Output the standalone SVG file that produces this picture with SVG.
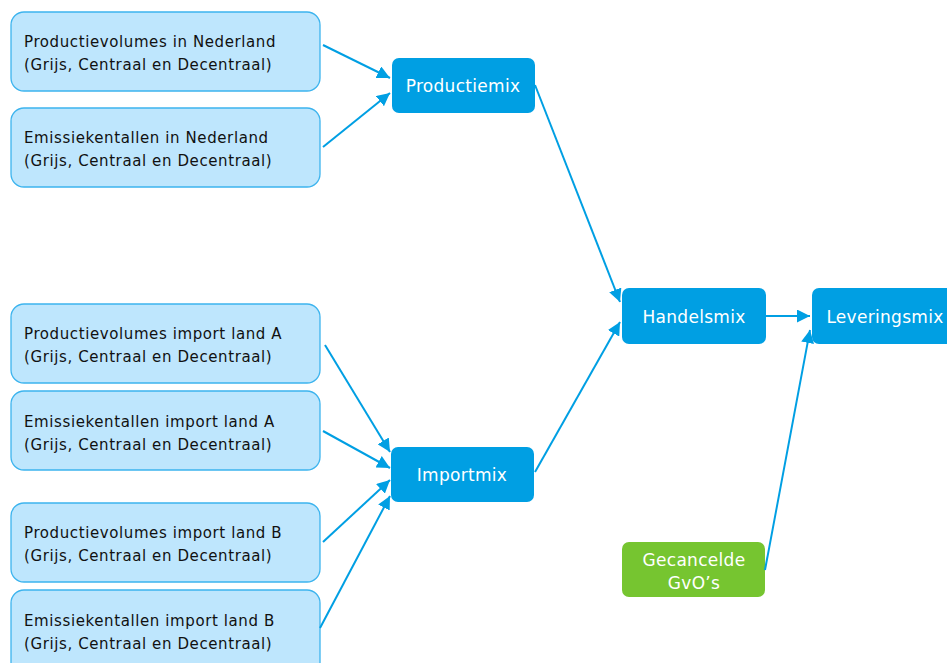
<svg xmlns="http://www.w3.org/2000/svg" width="947" height="663" viewBox="0 0 947 663">
<defs>
<marker id="ah" viewBox="0 0 10 10" refX="10" refY="5" markerWidth="6.5" markerHeight="6.5" orient="auto" markerUnits="strokeWidth">
<path d="M0,0 L10,5 L0,10 z" fill="#009FE3"/>
</marker>
<style>
.src rect{fill:#BEE6FD;stroke:#3DB4EE;stroke-width:1.3}
.src text{font-family:"DejaVu Sans",sans-serif;font-size:15px;letter-spacing:0.6px;fill:#111}
.mix rect{fill:#009FE3}
.mix text{font-family:"DejaVu Sans",sans-serif;font-size:17px;letter-spacing:0.3px;fill:#fff;text-anchor:middle}
.grn rect{fill:#76C530}
#connectors line{stroke:#009FE3;stroke-width:2;marker-end:url(#ah)}
</style>
</defs>
<rect width="947" height="663" fill="#fff"/>
<g id="n1" class="src"><rect x="11" y="12" width="309" height="79" rx="13"/><text x="24" y="47">Productievolumes  in Nederland</text><text x="24" y="70">(Grijs, Centraal en Decentraal)</text></g>
<g id="n2" class="src"><rect x="11" y="108" width="309" height="79" rx="13"/><text x="24" y="143">Emissiekentallen in Nederland</text><text x="24" y="166">(Grijs, Centraal en Decentraal)</text></g>
<g id="n3" class="src"><rect x="11" y="304" width="309" height="79" rx="13"/><text x="24" y="339">Productievolumes  import land A</text><text x="24" y="362">(Grijs, Centraal en Decentraal)</text></g>
<g id="n4" class="src"><rect x="11" y="391" width="309" height="79" rx="13"/><text x="24" y="427">Emissiekentallen import land A</text><text x="24" y="450">(Grijs, Centraal en Decentraal)</text></g>
<g id="n5" class="src"><rect x="11" y="503" width="309" height="79" rx="13"/><text x="24" y="538">Productievolumes  import land B</text><text x="24" y="561">(Grijs, Centraal en Decentraal)</text></g>
<g id="n6" class="src"><rect x="11" y="590" width="309" height="85" rx="13"/><text x="24" y="626">Emissiekentallen import land B</text><text x="24" y="649">(Grijs, Centraal en Decentraal)</text></g>
<g id="productiemix" class="mix"><rect x="392" y="58" width="143" height="55" rx="7"/><text x="463" y="92">Productiemix</text></g>
<g id="importmix" class="mix"><rect x="391" y="447" width="143" height="55" rx="7"/><text x="462" y="481">Importmix</text></g>
<g id="handelsmix" class="mix"><rect x="622" y="288" width="144" height="56" rx="7"/><text x="694" y="323">Handelsmix</text></g>
<g id="leveringsmix" class="mix"><rect x="812" y="288" width="150" height="56" rx="7"/><text x="885" y="323">Leveringsmix</text></g>
<g id="gvo" class="mix grn"><rect x="622" y="542" width="143" height="55" rx="7"/><text x="694" y="566">Gecancelde</text><text x="694" y="589">GvO’s</text></g>
<g id="connectors">
<line x1="323" y1="45" x2="390" y2="78"/>
<line x1="323" y1="147" x2="390" y2="93"/>
<line x1="325" y1="345" x2="390" y2="452"/>
<line x1="323" y1="431" x2="390" y2="468"/>
<line x1="323" y1="542" x2="390" y2="480"/>
<line x1="320" y1="628" x2="390" y2="496"/>
<line x1="535" y1="85" x2="620" y2="302"/>
<line x1="535" y1="472" x2="620" y2="322"/>
<line x1="766" y1="316" x2="810" y2="316"/>
<line x1="765" y1="570" x2="810" y2="330"/>
</g>
</svg>
